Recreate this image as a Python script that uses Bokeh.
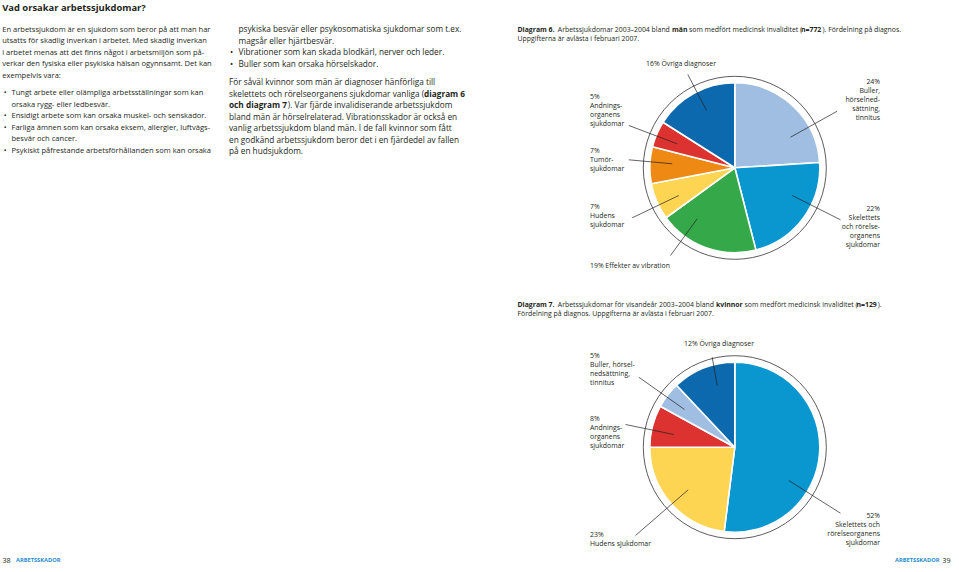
from bokeh.plotting import figure
from bokeh.models import Range1d, ColumnDataSource
from bokeh.core.properties import value
from bokeh.embed import file_html
from bokeh.resources import INLINE
import math

# ------------------------------------------------------------------ data
# Diagram 6 – men (n=772), clockwise from 12 o'clock
men_categories = ["Buller", "Skelett", "Vibration", "Hud", "Tumör", "Andning", "Övriga"]
men_pct = [24, 22, 19, 7, 7, 5, 16]
men_label_lines = [
    ["Buller,", "hörselned-", "sättning,", "tinnitus"],
    ["Skelettets", "och rörelse-", "organens", "sjukdomar"],
    ["Effekter av vibration"],
    ["Hudens", "sjukdomar"],
    ["Tumör-", "sjukdomar"],
    ["Andnings-", "organens", "sjukdomar"],
    ["Övriga diagnoser"],
]

# Diagram 7 – women (n=129), clockwise from 12 o'clock
women_categories = ["Skelett", "Hud", "Andning", "Buller", "Övriga"]
women_pct = [52, 23, 8, 5, 12]
women_label_lines = [
    ["Skelettets och", "rörelseorganens", "sjukdomar"],
    ["Hudens sjukdomar"],
    ["Andnings-", "organens", "sjukdomar"],
    ["Buller, hörsel-", "nedsättning,", "tinnitus"],
    ["Övriga diagnoser"],
]

title = "Vad orsakar arbetssjukdomar?"
intro_lines = [
    "En arbetssjukdom är en sjukdom som beror på att man har",
    "utsatts för skadlig inverkan i arbetet. Med skadlig inverkan",
    "i arbetet menas att det finns något i arbetsmiljön som på-",
    "verkar den fysiska eller psykiska hälsan ogynnsamt. Det kan",
    "exempelvis vara:",
]
bullet_items = [
    ["Tungt arbete eller olämpliga arbetsställningar som kan", "orsaka rygg- eller ledbesvär."],
    ["Ensidigt arbete som kan orsaka muskel- och senskador."],
    ["Farliga ämnen som kan orsaka eksem, allergier, luftvägs-", "besvär och cancer."],
    ["Psykiskt påfrestande arbetsförhållanden som kan orsaka"],
]
bullet_items_2 = [
    [None, "psykiska besvär eller psykosomatiska sjukdomar som t.ex.", "magsår eller hjärtbesvär."],
    ["Vibrationer som kan skada blodkärl, nerver och leder."],
    ["Buller som kan orsaka hörselskador."],
]
# paragraph: list of lines, each a list of (text, bold)
para_lines = [
    [("För såväl kvinnor som män är diagnoser hänförliga till", False)],
    [("skelettets och rörelseorganens sjukdomar vanliga (", False), ("diagram 6", True)],
    [("och diagram 7", True), ("). Var fjärde invalidiserande arbetssjukdom", False)],
    [("bland män är hörselrelaterad. Vibrationsskador är också en", False)],
    [("vanlig arbetssjukdom bland män. I de fall kvinnor som fått", False)],
    [("en godkänd arbetssjukdom beror det i en fjärdedel av fallen", False)],
    [("på en hudsjukdom.", False)],
]
caption6 = [
    [("Diagram 6.", True), ("Arbetssjukdomar 2003–2004 bland", False), ("män", True),
     ("som medfört medicinsk invaliditet (", False), ("n=772", True), ("). Fördelning på diagnos.", False)],
    [("Uppgifterna är avlästa i februari 2007.", False)],
]
caption7 = [
    [("Diagram 7.", True), ("Arbetssjukdomar för visandeår 2003–2004 bland", False), ("kvinnor", True),
     ("som medfört medicinsk invaliditet (", False), ("n=129", True), (").", False)],
    [("Fördelning på diagnos. Uppgifterna är avlästa i februari 2007.", False)],
]
footer_left = ("38", "ARBETSSKADOR")
footer_right = ("ARBETSSKADOR", "39")

# ------------------------------------------------------------------ style / layout
FONT = "Open Sans"
INK = "#231f20"
COLORS = {
    "Buller": "#9fbee2", "Skelett": "#0a97cf", "Vibration": "#35a94a", "Hud": "#fdd552",
    "Tumör": "#ee8913", "Andning": "#dc3330", "Övriga": "#0d69ad",
}
R_PIE, R_RING = 85, 91.5
BODY_L, BODY_M, SMALL, CAP, TITLE = "7.55px", "8.25px", "6.9px", "6.9px", "9.4px"
LH = 11.5          # body line height
LLH = 9.0          # label line height

W, H = 951, 564
p = figure(width=W, height=H, x_range=Range1d(0, W), y_range=Range1d(-H, 0),
           output_backend="svg", toolbar_location=None, min_border=0)
p.axis.visible = False
p.grid.visible = False
p.outline_line_color = None
p.background_fill_color = "white"

rows = dict(x=[], y=[], text=[], size=[], style=[], align=[], color=[])


def put(x, y, s, size, bold=False, align="left", color=INK):
    rows["x"].append(x)
    rows["y"].append(-y)
    rows["text"].append(s)
    rows["size"].append(size)
    rows["style"].append("bold" if bold else "normal")
    rows["align"].append(align)
    rows["color"].append(color)


# ---- left column
put(1.7, 7.3, title, TITLE, True)
y = 28.3
for ln in intro_lines:
    put(1.7, y, ln, BODY_L)
    y += LH
y += 5.7
for item in bullet_items:
    put(3.2, y, "•", BODY_L)
    for ln in item:
        put(11, y, ln, BODY_L)
        y += LH

# ---- middle column
y = 28.3
for item in bullet_items_2:
    lines = item
    if item[0] is None:
        lines = item[1:]
    else:
        put(229.5, y, "•", BODY_M)
    for ln in lines:
        put(238, y, ln, BODY_M)
        y += LH
y = 81
seg_x = {(1, 1): 423.5, (2, 1): 287.3}
for i, segs in enumerate(para_lines):
    for j, (s, b) in enumerate(segs):
        put(seg_x.get((i, j), 228.5), y, s, BODY_M, b)
    y += LH

# ---- captions
cap6_x = [[517, 557.3, 671.5, 688.5, 800.5, 822], [517]]
cap7_x = [[517, 557.3, 715.5, 744, 856, 877.2], [517]]
for cap, xs, y0 in ((caption6, cap6_x, 28.8), (caption7, cap7_x, 303.5)):
    for li, segs in enumerate(cap):
        for (s, b), x in zip(segs, xs[li]):
            put(x, y0 + li * 9.3, s, CAP, b)

# ---- footers
put(2, 559.5, footer_left[0], "7.2px")
put(15.5, 559.5, footer_left[1], "5.7px", True, color="#1f8ccb")
put(939, 559.5, footer_right[0], "5.7px", True, "right", "#1f8ccb")
put(950, 559.5, footer_right[1], "7.2px", align="right")


# ---- pies
def draw_pie(cx, cy, cats, pct, label_lines, label_layout):
    total = float(sum(pct))
    start, a0, a1, cols = 0.0, [], [], []
    for c, v in zip(cats, pct):
        a0.append(math.pi / 2 - 2 * math.pi * start / total)
        start += v
        a1.append(math.pi / 2 - 2 * math.pi * start / total)
        cols.append(COLORS[c])
    src = ColumnDataSource(dict(x=[cx] * len(cats), y=[-cy] * len(cats), a0=a0, a1=a1, c=cols))
    p.circle(x=[cx], y=[-cy], radius=R_RING, fill_color="white", line_color="#4a4a4a", line_width=0.9)
    p.wedge(x="x", y="y", radius=R_PIE, start_angle="a0", end_angle="a1", direction="clock",
            fill_color="c", line_color="white", line_width=1.6, source=src)
    sx0, sy0, sx1, sy1 = [], [], [], []
    for v, lines, lay in zip(pct, label_lines, label_layout):
        lx, ly, align, inline, (l0x, l0y, l1x, l1y) = lay
        txt = ([f"{v}% " + lines[0]] + lines[1:]) if inline else ([f"{v}%"] + lines)
        for k, t in enumerate(txt):
            put(lx, ly + k * LLH, t, SMALL, False, align)
        sx0.append(l0x); sy0.append(-l0y); sx1.append(l1x); sy1.append(-l1y)
    p.segment(x0=sx0, y0=sy0, x1=sx1, y1=sy1, line_color=INK, line_width=0.7)


men_layout = [
    (879.5, 80.7, "right", False, (836.7, 110.7, 790, 136.7)),
    (879.5, 207.7, "right", False, (840, 219.3, 791.7, 195)),
    (589.5, 265, "left", True, (670, 255, 696.7, 218.3)),
    (589.5, 205.7, "left", False, (631.7, 217.3, 678.3, 195)),
    (589.5, 150, "left", False, (628.3, 159.3, 671.7, 163.3)),
    (589.5, 96, "left", False, (628.3, 125, 676.7, 143.3)),
    (680.5, 62.7, "center", True, (687.3, 74, 706, 110)),
]
women_layout = [
    (879.5, 515, "right", False, (840, 512.7, 788.3, 480)),
    (589.5, 534, "left", False, (635, 535, 687.7, 489.3)),
    (589.5, 418, "left", False, (625, 424, 673.3, 434)),
    (589.5, 355, "left", False, (638.3, 376.7, 684, 409)),
    (718.5, 343, "center", True, (711.7, 356.7, 716.7, 385)),
]
draw_pie(734.3, 167.3, men_categories, men_pct, men_label_lines, men_layout)
draw_pie(734.3, 446.7, women_categories, women_pct, women_label_lines, women_layout)

tsrc = ColumnDataSource(rows)
p.text(x="x", y="y", text="text", source=tsrc, text_font=value(FONT), text_font_size="size",
       text_font_style="style", text_align="align", text_color="color", text_baseline="middle")

open("out.html", "w").write(file_html(p, INLINE))
